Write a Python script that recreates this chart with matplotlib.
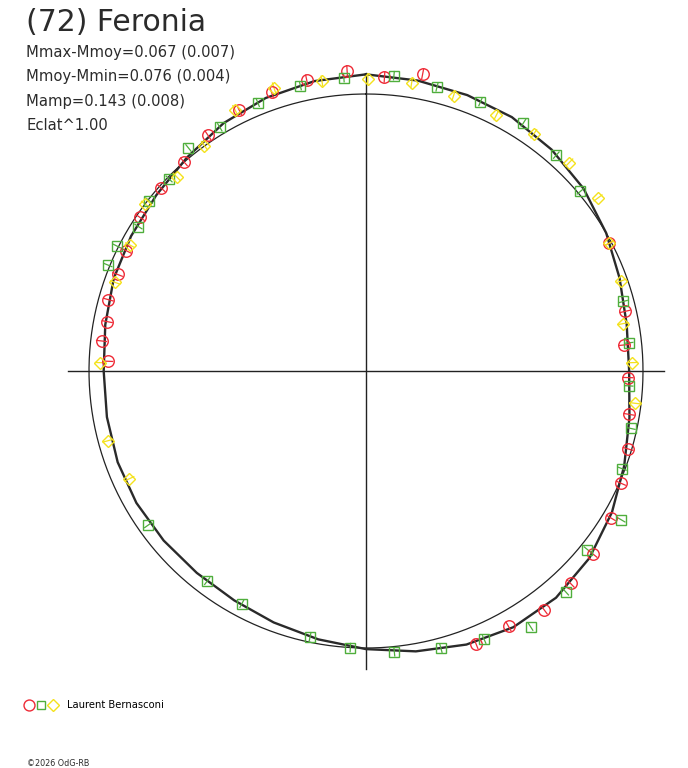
import numpy as np
import matplotlib
matplotlib.use("Agg")
import matplotlib.pyplot as plt
from matplotlib.lines import Line2D
from matplotlib.legend_handler import HandlerTuple

# rotational phase (0..1, clockwise from top) and relative flux (mean = 1)
red_phase = [0.948, 0.968, 0.990, 0.010, 0.030, 0.173, 0.214, 0.234, 0.254, 0.276,
             0.296, 0.316, 0.336, 0.358, 0.378, 0.398, 0.419, 0.439, 0.756, 0.768,
             0.780, 0.793, 0.809, 0.824, 0.845, 0.866, 0.886, 0.906, 0.928]
red_flux = [1.062, 1.072, 1.086, 1.063, 1.092, 0.993, 0.960, 0.936, 0.946, 0.963,
            0.987, 1.005, 1.031, 1.053, 1.065, 1.076, 1.056, 1.062, 0.933, 0.961,
            0.951, 0.965, 0.962, 0.968, 0.986, 0.991, 1.001, 1.025, 1.046]

green_phase = [0.939, 0.964, 0.988, 0.015, 0.039, 0.064, 0.090, 0.115, 0.139, 0.208,
               0.233, 0.259, 0.284, 0.308, 0.334, 0.358, 0.383, 0.409, 0.434, 0.458,
               0.484, 0.509, 0.533, 0.578, 0.603, 0.652, 0.824, 0.812, 0.840, 0.856,
               0.873, 0.893, 0.914]
green_flux = [1.045, 1.057, 1.062, 1.071, 1.057, 1.056, 1.061, 1.039, 1.010, 0.962,
              0.954, 0.950, 0.979, 0.990, 1.067, 1.027, 1.075, 1.098, 1.059, 1.037,
              1.019, 1.000, 0.980, 0.952, 0.951, 0.964, 1.007, 1.007, 0.973, 0.996,
              0.993, 1.029, 1.026]

yellow_phase = [0.950, 0.976, 0.001, 0.025, 0.049, 0.075, 0.098, 0.123, 0.148, 0.173,
                0.196, 0.221, 0.245, 0.269, 0.682, 0.708, 0.755, 0.804, 0.828, 0.853,
                0.877, 0.901, 0.926]
yellow_flux = [1.075, 1.059, 1.054, 1.053, 1.043, 1.036, 1.049, 1.051, 1.045, 0.993,
               0.977, 0.945, 0.961, 0.977, 0.939, 0.965, 0.959, 0.960, 0.965, 0.998,
               0.979, 1.001, 1.054]

err = {"red": 0.018, "green": 0.015, "yellow": 0.018}

# fitted lightcurve, read every 10 degrees of phase
curve_phase = [0.000, 0.028, 0.056, 0.083, 0.111, 0.139, 0.167, 0.194, 0.222, 0.250,
               0.278, 0.306, 0.333, 0.361, 0.389, 0.417, 0.444, 0.472, 0.500, 0.528,
               0.556, 0.583, 0.611, 0.639, 0.667, 0.694, 0.722, 0.750, 0.778, 0.806,
               0.833, 0.861, 0.889, 0.917, 0.944, 0.972]
curve_flux = [1.071, 1.065, 1.061, 1.057, 1.043, 1.025, 1.000, 0.975, 0.956, 0.950,
              0.966, 0.993, 1.024, 1.052, 1.068, 1.067, 1.052, 1.028, 1.004, 0.984,
              0.967, 0.955, 0.951, 0.953, 0.956, 0.955, 0.950, 0.947, 0.956, 0.970,
              0.978, 0.988, 1.006, 1.032, 1.050, 1.063]

eclat = 1.00
axis_len = 1.076

title = "(72) Feronia"
info = ["Mmax-Mmoy=0.067 (0.007)", "Mmoy-Mmin=0.076 (0.004)",
        "Mamp=0.143 (0.008)", "Eclat^1.00"]
observer = "Laurent Bernasconi"
credit = "\u00a92026 OdG-RB"

W, H = 688, 768
cx, cy, R = 366, 371, 277  # centre and mean radius in pixels

plt.rcParams['font.family'] = ['DejaVu Sans']
fig = plt.figure(figsize=(W / 100, H / 100), dpi=100)
ax = fig.add_axes([0, 0, 1, 1])
ax.set_xlim(-cx / R, (W - cx) / R)
ax.set_ylim((cy - H) / R, cy / R)
ax.axis('off')


def to_xy(phase, flux):
    a = 2 * np.pi * np.asarray(phase)
    r = np.asarray(flux) ** eclat
    return r * np.sin(a), r * np.cos(a)


ink = '#222222'
ax.plot([-axis_len, axis_len], [0, 0], color=ink, lw=1.0)
ax.plot([0, 0], [-axis_len, axis_len], color=ink, lw=1.0)

t = np.linspace(0, 1, 400)
ax.plot(*to_xy(t, np.ones_like(t)), color=ink, lw=0.9)

lx, ly = to_xy(curve_phase + curve_phase[:1], curve_flux + curve_flux[:1])
ax.plot(lx, ly, color='#2a2a2a', lw=1.7, solid_joinstyle='round')

series = [
    ("red", red_phase, red_flux, 'o', 8.3, '#ee2a36'),
    ("green", green_phase, green_flux, 's', 6.6, '#4fae3c'),
    ("yellow", yellow_phase, yellow_flux, 'D', 6.0, '#f4e21c'),
]
handles = []
for name, ph, fl, mk, ms, col in series:
    ph = np.asarray(ph)
    fl = np.asarray(fl)
    e = err[name]
    for p, f in zip(ph, fl):
        ex, ey = to_xy([p, p], [f - e, f + e])
        ax.plot(ex, ey, color=col, lw=0.9, zorder=3)
    x, y = to_xy(ph, fl)
    ax.plot(x, y, ls='none', marker=mk, ms=ms, mfc='none', mec=col, mew=1.0, zorder=4)
    handles.append(Line2D([], [], ls='none', marker=mk, ms=ms * 0.95, mfc='none',
                          mec=col, mew=1.0))

txt = '#2b2b2b'
fig.text(26 / W, 1 - 31 / H, title, fontsize=21.5, color=txt)
for i, line in enumerate(info):
    fig.text(26 / W, 1 - (57 + 24.5 * i) / H, line, fontsize=10.6, color=txt)

fig.legend(handles=[tuple(handles)], labels=[observer], loc='center left',
           bbox_to_anchor=(24 / W, 1 - 705 / H), frameon=False, fontsize=7.2,
           handler_map={tuple: HandlerTuple(ndivide=None, pad=0.2)},
           handlelength=3.4, handletextpad=0.9, borderpad=0, borderaxespad=0)
fig.text(27 / W, 1 - 766 / H, credit, fontsize=5.8, color=txt)

fig.savefig("out.png", dpi=100)
